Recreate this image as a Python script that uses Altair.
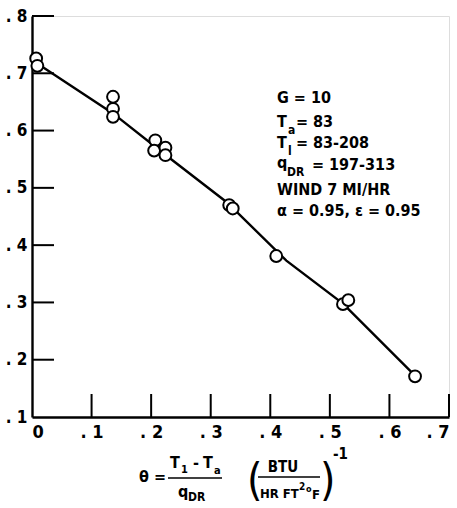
import altair as alt
import pandas as pd

# ---- data ----
theta = [0.007, 0.009, 0.136, 0.136, 0.136, 0.207, 0.205, 0.224, 0.224,
         0.331, 0.337, 0.410, 0.522, 0.531, 0.643]
eff = [0.726, 0.713, 0.659, 0.638, 0.624, 0.583, 0.565, 0.570, 0.557,
       0.470, 0.464, 0.381, 0.297, 0.304, 0.171]
fit_theta = [0.012, 0.136, 0.226, 0.327, 0.427, 0.522, 0.645]
fit_eff = [0.715, 0.630, 0.556, 0.475, 0.373, 0.298, 0.170]
x_ticks = [0.1, 0.2, 0.3, 0.4, 0.5, 0.6, 0.7]
y_ticks = [0.2, 0.3, 0.4, 0.5, 0.6, 0.7, 0.8]

# ---- layout ----
PL, PT, PR, PB = 32, 16, 8, 91
W = 457 - PL - PR
H = 508 - PT - PB
FONT = "DejaVu Sans Condensed, DejaVu Sans, sans-serif"
XT, YT = 23, 22  # inward tick lengths

xs = alt.Scale(domain=[0, 0.7], nice=False, zero=False)
ys = alt.Scale(domain=[0.1, 0.8], nice=False, zero=False)

pts = pd.DataFrame({"theta": theta, "eff": eff})
fit = pd.DataFrame({"theta": fit_theta, "eff": fit_eff})

x_lbl = "datum.value == 0 ? '0' : replace(format(datum.value, '.1f'), '0.', '. ')"
y_lbl = "replace(format(datum.value, '.1f'), '0.', '. ')"

base_line = alt.Chart(fit).mark_line(color="black", strokeWidth=2.4).encode(
    x=alt.X("theta:Q", scale=xs,
            axis=alt.Axis(title=None, orient="bottom", values=[0] + x_ticks,
                          labelExpr=x_lbl, ticks=False, grid=False,
                          labelPadding=6, labelFontSize=18, labelFont=FONT,
                          labelFontWeight="bold", labelColor="black",
                          domainColor="black", domainWidth=2.4)),
    y=alt.Y("eff:Q", scale=ys,
            axis=alt.Axis(title=None, orient="left", values=y_ticks + [0.1],
                          labelExpr=y_lbl, ticks=False, grid=False,
                          labelPadding=5, labelFontSize=17, labelFont=FONT,
                          labelFontWeight="bold", labelColor="black",
                          domainColor="black", domainWidth=2.4)),
)

# inward ticks drawn as line-shaped symbols anchored on the axes
ytick_marks = alt.Chart(pd.DataFrame({"yv": y_ticks})).mark_point(
    shape="M0,0H2", size=YT * YT, filled=False, stroke="black",
    strokeWidth=2, opacity=1).encode(
    y=alt.Y("yv:Q", scale=ys), x=alt.value(0))
xtick_marks = alt.Chart(pd.DataFrame({"xv": x_ticks})).mark_point(
    shape="M0,0V-2", size=XT * XT, filled=False, stroke="black",
    strokeWidth=2, opacity=1).encode(
    x=alt.X("xv:Q", scale=xs), y=alt.value(H))

circles = alt.Chart(pts).mark_point(shape="circle", filled=True, fill="white",
                                    stroke="black", strokeWidth=2, size=140,
                                    opacity=1).encode(
    x=alt.X("theta:Q", scale=xs), y=alt.Y("eff:Q", scale=ys))


def txt(s, px, py, size=16, align="left", weight="bold"):
    return alt.Chart(pd.DataFrame({"t": [s]})).mark_text(
        align=align, baseline="middle", fontSize=size, font=FONT,
        fontWeight=weight, color="black").encode(
        text="t:N", x=alt.value(px - PL), y=alt.value(py - PT))


def hbar(x1, x2, py, w=1.6):
    return alt.Chart(pd.DataFrame({"t": [0]})).mark_rule(
        color="black", strokeWidth=w).encode(
        x=alt.value(x1 - PL), x2=alt.value(x2 - PL), y=alt.value(py - PT))


notes = [
    txt("G = 10", 277, 98),
    txt("T", 277, 122), txt("a", 288, 130, 12), txt("= 83", 296, 122),
    txt("T", 277, 143), txt("l", 288, 151, 12), txt("= 83-208", 296, 143),
    txt("q", 277, 163), txt("DR", 287, 172, 12), txt("= 197-313", 312, 165),
    txt("WIND 7 MI/HR", 277, 190),
    txt("α = 0.95, ε = 0.95", 277, 211),
]

xtitle = [
    txt("θ =", 139, 477, 16),
    txt("T", 170, 463, 16), txt("1", 181, 470, 11), txt("-", 193, 463, 16),
    txt("T", 203, 463, 16), txt("a", 214, 471, 11),
    hbar(168, 222, 478),
    txt("q", 178, 492, 16), txt("DR", 188, 497, 12),
    txt("(", 247, 482, 44, weight="normal"),
    txt("BTU", 283, 467, 15, align="center"),
    hbar(258, 320, 477),
    txt("HR FT", 260, 494, 13), txt("2", 299, 487, 10), txt("o", 306, 489, 9),
    txt("F", 312, 495, 13),
    txt(")", 320, 482, 44, weight="normal"),
    txt("-1", 333, 454, 15),
]

chart = alt.layer(base_line, ytick_marks, xtick_marks, circles,
                  *notes, *xtitle).properties(
    width=W, height=H,
    autosize=alt.AutoSizeParams(type="none"),
    padding={"left": PL, "top": PT, "right": PR, "bottom": PB},
).configure_view(stroke=None).configure(background="white")

chart.save("out.html", embed_options={"renderer": "svg", "actions": False})
